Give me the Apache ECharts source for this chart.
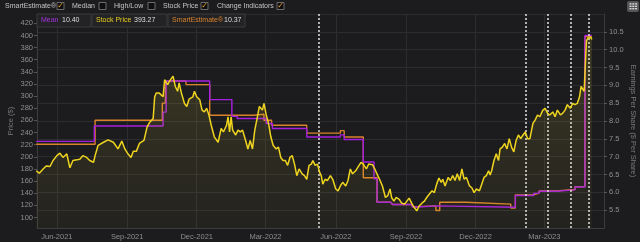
<!DOCTYPE html>
<html><head><meta charset="utf-8">
<script src="https://cdn.jsdelivr.net/npm/echarts@6/dist/echarts.min.js"></script>
<style>html,body{margin:0;padding:0;background:#1c1c1e}#c{width:640px;height:242px}</style>
</head><body><div id="c"></div>
<script>
// ---------- data ----------
const priceDates = ['2021-05-05','2021-05-09','2021-05-14','2021-05-18','2021-05-23','2021-05-27','2021-06-01','2021-06-05','2021-06-09','2021-06-14','2021-06-18','2021-06-22','2021-06-27','2021-07-01','2021-07-05','2021-07-10','2021-07-14','2021-07-19','2021-07-21','2021-07-25','2021-08-01','2021-08-07','2021-08-14','2021-08-20','2021-08-25','2021-08-29','2021-09-02','2021-09-06','2021-09-09','2021-09-13','2021-09-17','2021-09-23','2021-09-27','2021-09-30','2021-10-05','2021-10-07','2021-10-09','2021-10-11','2021-10-13','2021-10-15','2021-10-18','2021-10-20','2021-10-22','2021-10-24','2021-10-26','2021-10-28','2021-10-31','2021-11-03','2021-11-06','2021-11-08','2021-11-11','2021-11-15','2021-11-18','2021-11-21','2021-11-26','2021-11-28','2021-12-01','2021-12-05','2021-12-08','2021-12-11','2021-12-14','2021-12-17','2021-12-20','2021-12-24','2021-12-29','2022-01-02','2022-01-05','2022-01-09','2022-01-11','2022-01-13','2022-01-15','2022-01-17','2022-01-21','2022-01-24','2022-01-27','2022-01-30','2022-02-03','2022-02-06','2022-02-09','2022-02-12','2022-02-15','2022-02-18','2022-02-21','2022-02-25','2022-02-27','2022-03-02','2022-03-05','2022-03-08','2022-03-11','2022-03-15','2022-03-18','2022-03-21','2022-03-24','2022-03-27','2022-03-30','2022-04-02','2022-04-05','2022-04-08','2022-04-11','2022-04-14','2022-04-18','2022-04-21','2022-04-24','2022-04-27','2022-04-30','2022-05-02','2022-05-05','2022-05-08','2022-05-11','2022-05-13','2022-05-15','2022-05-18','2022-05-21','2022-05-25','2022-05-28','2022-06-01','2022-06-04','2022-06-07','2022-06-10','2022-06-14','2022-06-17','2022-06-20','2022-06-23','2022-06-27','2022-06-30','2022-07-04','2022-07-07','2022-07-11','2022-07-14','2022-07-19','2022-07-22','2022-07-26','2022-07-29','2022-08-01','2022-08-05','2022-08-08','2022-08-11','2022-08-13','2022-08-16','2022-08-19','2022-08-23','2022-08-26','2022-08-30','2022-09-02','2022-09-05','2022-09-09','2022-09-12','2022-09-15','2022-09-18','2022-09-22','2022-09-25','2022-09-28','2022-10-01','2022-10-05','2022-10-08','2022-10-11','2022-10-14','2022-10-17','2022-10-19','2022-10-22','2022-10-26','2022-10-29','2022-11-01','2022-11-04','2022-11-07','2022-11-10','2022-11-13','2022-11-16','2022-11-19','2022-11-23','2022-11-26','2022-11-29','2022-12-02','2022-12-06','2022-12-09','2022-12-12','2022-12-15','2022-12-18','2022-12-20','2022-12-22','2022-12-25','2022-12-28','2022-12-31','2023-01-02','2023-01-05','2023-01-08','2023-01-11','2023-01-14','2023-01-17','2023-01-20','2023-01-23','2023-01-26','2023-01-29','2023-02-01','2023-02-04','2023-02-07','2023-02-10','2023-02-14','2023-02-17','2023-02-20','2023-02-23','2023-02-27','2023-03-02','2023-03-05','2023-03-08','2023-03-12','2023-03-15','2023-03-18','2023-03-22','2023-03-25','2023-03-28','2023-03-31','2023-04-04','2023-04-07','2023-04-10','2023-04-13','2023-04-16','2023-04-18','2023-04-20','2023-04-22','2023-04-24','2023-04-25','2023-04-27','2023-04-29','2023-05-01','2023-05-02'];
const priceValues = [177,173,180,185,184,194,202,206,199,205,182,194,195,196,202,199,194,191,202,219,224,228,224,213,226,213,205,199,209,209,222,227,249,256,263,299,305,308,305,302,299,327,330,319,324,322,333,316,308,322,305,288,283,295,299,308,299,294,277,274,280,269,252,233,224,247,241,252,266,241,266,244,236,244,241,244,227,213,227,213,244,263,283,277,288,269,255,233,219,213,216,199,194,194,186,199,202,188,169,180,172,169,163,186,188,194,186,188,174,169,155,163,161,169,163,147,144,152,158,152,161,180,172,177,183,191,188,180,188,187,180,169,161,152,133,136,147,133,127,133,130,124,122,127,132,122,116,111,119,124,127,133,138,144,141,155,165,158,163,152,166,161,169,161,172,161,180,163,166,152,149,141,147,144,155,166,169,177,170,177,194,205,194,213,216,222,213,230,216,208,227,236,230,236,241,230,230,255,261,269,266,277,280,272,269,274,266,277,269,272,277,286,280,288,286,288,299,316,313,308,306,391,396,394,397,393.27];

const meanDates = ['2021-05-05','2021-07-20','2021-10-18','2021-10-22','2021-12-18','2022-01-16','2022-01-23','2022-03-02','2022-03-10','2022-04-24','2022-06-07','2022-06-12','2022-07-07','2022-07-21','2022-07-25','2022-08-12','2022-08-14','2022-09-09','2022-09-16','2022-10-11','2023-01-22','2023-02-15','2023-02-22','2023-03-17','2023-04-10','2023-04-23','2023-05-02'];
const meanValues = [7.43,7.86,8.25,9.12,8.60,8.13,8.07,7.93,7.79,7.55,7.61,7.48,6.85,6.38,5.72,5.76,5.66,5.59,5.62,5.58,5.91,5.97,6.03,6.07,6.15,10.40,10.40];

const smartDates = ['2021-05-05','2021-07-21','2021-10-17','2021-10-21','2021-11-17','2021-12-18','2022-02-13','2022-02-27','2022-03-09','2022-04-24','2022-06-07','2022-06-12','2022-07-07','2022-07-25','2022-08-12','2022-08-14','2022-09-09','2022-09-16','2022-10-10','2022-10-15','2022-11-18','2023-01-16','2023-01-22','2023-02-15','2023-02-22','2023-03-17','2023-04-10','2023-04-23','2023-05-02'];
const smartValues = [7.35,8.02,8.50,9.12,9.02,8.16,8.19,8.02,7.88,7.66,7.73,7.55,6.41,5.72,5.76,5.66,5.60,5.62,5.49,5.72,5.67,5.56,5.93,5.98,6.04,6.08,6.16,10.37,10.37];

const changeDates = ['2022-05-10','2023-02-04','2023-03-06','2023-04-05','2023-04-28'];
const xTickMonths = ['2021-06-01','2021-09-01','2021-12-01','2022-03-01','2022-06-01','2022-09-01','2022-12-01','2023-03-01'];
const xRange = ['2021-05-06','2023-05-18'];
const priceTicks = [100,120,140,160,180,200,220,240,260,280,300,320,340,360,380,400,420];
const lastPrice = 393.27, lastMean = 10.40, lastSmart = 10.37;

// ---------- build ----------
const MON = ['Jan','Feb','Mar','Apr','May','Jun','Jul','Aug','Sep','Oct','Nov','Dec'];
const ts = s => { const [y,m,d] = s.split('-').map(Number); return Date.UTC(y, m-1, d); };
const xTicks = xTickMonths.map(ts);
const zip = (a,b) => a.map((d,i) => [ts(d), b[i]]);
const FONT = '"Liberation Sans", Arial, sans-serif';
const lab = '#8e8e8e';

const chart = echarts.init(document.getElementById('c'), null, {renderer:'canvas'});

function checkbox(x, checked){
  const els = [{type:'rect', shape:{x:x, y:2.5, width:7, height:7}, style:{fill:'#0e0e0e', stroke:'#6a6a6a', lineWidth:1}}];
  if (checked) els.push({type:'text', style:{x:x+3.7, y:6, text:'✓', fill:'#f0a030', font:'bold 8px "DejaVu Sans", sans-serif', align:'center', verticalAlign:'middle'}});
  return els;
}
function topText(x, t){ return {type:'text', style:{x:x, y:6.5, text:t, fill:'#c4c4c4', font:'7px '+FONT, verticalAlign:'middle'}}; }
function tag(x, w, name, nameColor, value, valX){
  return [
    {type:'rect', shape:{x:x, y:14, width:w, height:13}, style:{fill:'#232325', stroke:'#3a3a3c', lineWidth:1}, z:100},
    {type:'text', style:{x:x+4, y:20.5, text:name, fill:nameColor, font:'7px '+FONT, verticalAlign:'middle'}, z:101},
    {type:'text', style:{x:valX, y:20.5, text:value, fill:'#dcdcdc', font:'7px '+FONT, verticalAlign:'middle'}, z:101}
  ];
}

const iconCells = [];
for (let r = 0; r < 3; r++) for (let c = 0; c < 3; c++)
  iconCells.push({type:'rect', shape:{x:629.5+c*2.8, y:3.2+r*2.4, width:2, height:1.4}, style:{fill:'#d8d8d8'}});

const graphics = [].concat(
  topText(5,'SmartEstimate®'), checkbox(57,true),
  topText(72,'Median'), checkbox(99,false),
  topText(114,'High/Low'), checkbox(148,false),
  topText(163,'Stock Price'), checkbox(201,true),
  topText(217,'Change Indicators'), checkbox(277,true),
  [{type:'rect', shape:{x:627, y:1, width:12, height:11, r:2}, style:{fill:'#555557'}}],
  iconCells,
  tag(37, 54, 'Mean', '#a632e0', lastMean.toFixed(2), 62),
  tag(92, 75, 'Stock Price', '#e6cc1e', String(lastPrice), 134),
  tag(168, 77, 'SmartEstimate®', '#d9822b', lastSmart.toFixed(2), 224)
);

const option = {
  backgroundColor:'#1c1c1e',
  animation:false,
  textStyle:{fontFamily:FONT},
  grid:{left:37, right:36, top:14, bottom:14, containLabel:false, outerBoundsMode:'none'},
  xAxis:{
    type:'value', min:ts(xRange[0]), max:ts(xRange[1]),
    axisLine:{lineStyle:{color:'#3c3c3e'}},
    axisTick:{show:false, customValues:xTicks},
    axisLabel:{customValues:xTicks, color:lab, fontSize:7.5, margin:5,
      formatter:v => { const d = new Date(v); return MON[d.getUTCMonth()] + '-' + d.getUTCFullYear(); }},
    splitLine:{show:true, lineStyle:{color:'#2d2d2f', width:1}}
  },
  yAxis:[
    {type:'value', position:'left', min:82.7, max:435.4,
     name:'Price ($)', nameLocation:'middle', nameGap:22, nameMoveOverlap:false,
     nameTextStyle:{color:'#7a7a7a', fontSize:7.5},
     axisLine:{show:true, lineStyle:{color:'#3c3c3e'}},
     axisTick:{show:true, length:3, customValues:priceTicks, lineStyle:{color:'#555'}},
     axisLabel:{customValues:priceTicks, color:lab, fontSize:7.5, margin:4},
     splitLine:{show:false}},
    {type:'value', position:'right', min:5, max:11, interval:0.5,
     name:'Earnings Per Share ($ Per Share)', nameLocation:'middle', nameGap:25, nameRotate:-90, nameMoveOverlap:false,
     nameTextStyle:{color:'#7a7a7a', fontSize:7.5},
     axisLine:{show:true, lineStyle:{color:'#3c3c3e'}},
     axisTick:{show:true, length:3, lineStyle:{color:'#555'}},
     axisLabel:{color:lab, fontSize:7.5, margin:5, showMinLabel:false, showMaxLabel:false, formatter:v => v.toFixed(1)},
     splitLine:{show:true, lineStyle:{color:'#2d2d2f', width:1}}}
  ],
  series:[
    {name:'SmartEstimate', type:'line', yAxisIndex:1, step:'end', symbol:'none', data:zip(smartDates, smartValues),
     lineStyle:{color:'#d9822b', width:1.4}, itemStyle:{color:'#d9822b'}, z:3},
    {name:'Mean', type:'line', yAxisIndex:1, step:'end', symbol:'none', data:zip(meanDates, meanValues),
     lineStyle:{color:'#a61fe0', width:1.4}, itemStyle:{color:'#a61fe0'}, z:4},
    {name:'Stock Price', type:'line', yAxisIndex:0, symbol:'none', data:zip(priceDates, priceValues),
     lineStyle:{color:'#efd41f', width:1.5}, itemStyle:{color:'#efd41f'},
     areaStyle:{origin:'start', color:new echarts.graphic.LinearGradient(0,0,0,1,[
       {offset:0, color:'rgba(225,205,60,0.24)'}, {offset:1, color:'rgba(225,205,60,0.05)'}])},
     z:5,
     markLine:{silent:true, symbol:'none', animation:false,
       lineStyle:{color:'#e4e4e4', type:[2,2], width:1.5},
       label:{show:false},
       data: changeDates.map(d => ({xAxis:ts(d)})).concat([{
         yAxis:lastPrice, lineStyle:{opacity:0},
         label:{show:true, position:'start', distance:1, offset:[0,3], formatter:String(lastPrice),
           backgroundColor:'#f2d422', color:'#1a1a1a', fontSize:7.5, padding:[1,2,0,2], fontFamily:FONT}
       }])}
    }
  ],
  graphic:graphics
};
chart.setOption(option);
</script></body></html>
